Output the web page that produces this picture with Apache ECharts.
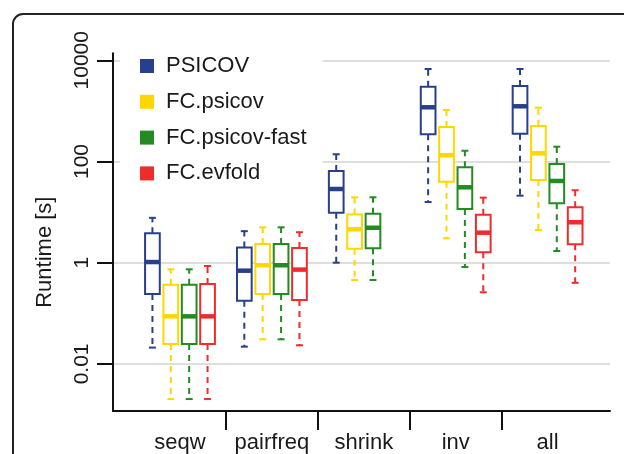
<!DOCTYPE html>
<html>
<head>
<meta charset="utf-8">
<script src="https://cdn.jsdelivr.net/npm/echarts@6.0.0/dist/echarts.min.js"></script>
<style>
  html, body { margin: 0; padding: 0; background: #ffffff; }
  #chart { width: 624px; height: 454px; }
</style>
</head>
<body>
<div id="chart"></div>
<script>
// ---- data (runtime in seconds): [lower whisker, Q1, median, Q3, upper whisker] ----
const categories = ['seqw', 'pairfreq', 'shrink', 'inv', 'all'];
const seriesNames = ['PSICOV', 'FC.psicov', 'FC.psicov-fast', 'FC.evfold'];

const psicov = [
  [0.021, 0.24, 1.03, 3.8, 7.7],
  [0.0219, 0.177, 0.695, 2.0, 4.2],
  [1.0, 9.7, 28.6, 65, 139],
  [15.8, 345, 1178, 3010, 6730],
  [21.1, 354, 1233, 3105, 6730]
];
const fcPsicov = [
  [0.00202, 0.0247, 0.087, 0.367, 0.74],
  [0.0306, 0.24, 0.89, 2.34, 5.0],
  [0.455, 1.89, 4.57, 9.0, 19.6],
  [3.03, 39.9, 133, 481, 1042],
  [4.43, 43.1, 145, 503, 1156]
];
const fcPsicovFast = [
  [0.00202, 0.0247, 0.087, 0.367, 0.74],
  [0.0306, 0.24, 0.89, 2.34, 5.0],
  [0.455, 1.92, 4.9, 9.3, 19.6],
  [0.82, 11.5, 30.9, 76.8, 163],
  [1.70, 14.9, 41.2, 89.3, 196]
];
const fcEvfold = [
  [0.00202, 0.0247, 0.087, 0.38, 0.86],
  [0.0233, 0.183, 0.73, 1.95, 4.0],
  null,
  [0.26, 1.6, 3.92, 8.9, 19.3],
  [0.40, 2.31, 6.29, 12.4, 27]
];

const yTickValues = [0.01, 1, 100, 10000];
const yTickLabels = ['0.01', '1', '100', '10000'];

// ---- styling ----
const colors = ['#27408B', '#FFD700', '#228B22', '#EE2C2C'];
const SLOT = 0.2;     // offset between boxes within a category (category units)
const BOX_W = 0.16;   // box width (category units)
const CAP_W = 0.076;  // whisker cap width
const FONT = '"Liberation Sans", Arial, sans-serif';
const TEXT = '#1a1a1a';

const allSeries = [psicov, fcPsicov, fcPsicovFast, fcEvfold];

function makeRender(sIdx, color) {
  return function (params, api) {
    const x = api.value(0) + (sIdx - 1.5) * SLOT;
    const pLow = api.coord([x, api.value(1)]);
    const yQ1 = api.coord([x, api.value(2)])[1];
    const yMed = api.coord([x, api.value(3)])[1];
    const yQ3 = api.coord([x, api.value(4)])[1];
    const yHigh = api.coord([x, api.value(5)])[1];
    const cx = pLow[0];
    const yLow = pLow[1];
    const bw = api.size([BOX_W, 0])[0];
    const cw = api.size([CAP_W, 0])[0];
    const dash = { stroke: color, lineWidth: 2, lineDash: [6, 5], fill: null };
    const solid = { stroke: color, lineWidth: 2, fill: null };
    return {
      type: 'group',
      children: [
        { type: 'line', shape: { x1: cx, y1: yQ1, x2: cx, y2: yLow }, style: dash },
        { type: 'line', shape: { x1: cx, y1: yQ3, x2: cx, y2: yHigh }, style: dash },
        { type: 'line', shape: { x1: cx - cw / 2, y1: yLow, x2: cx + cw / 2, y2: yLow }, style: solid },
        { type: 'line', shape: { x1: cx - cw / 2, y1: yHigh, x2: cx + cw / 2, y2: yHigh }, style: solid },
        { type: 'rect', shape: { x: cx - bw / 2, y: yQ3, width: bw, height: yQ1 - yQ3 },
          style: { stroke: color, lineWidth: 2, fill: '#ffffff' } },
        { type: 'line', shape: { x1: cx - bw / 2, y1: yMed, x2: cx + bw / 2, y2: yMed },
          style: { stroke: color, lineWidth: 4.5 } }
      ]
    };
  };
}

const series = allSeries.map((arr, sIdx) => ({
  type: 'custom',
  name: seriesNames[sIdx],
  itemStyle: { color: colors[sIdx] },
  renderItem: makeRender(sIdx, colors[sIdx]),
  encode: { x: 0, y: [1, 2, 3, 4, 5] },
  data: arr.map((row, i) => row ? [i].concat(row.map(v => Math.log10(v))) : null)
           .filter(d => d !== null),
  z: 2
}));

const chart = echarts.init(document.getElementById('chart'), null, { renderer: 'canvas' });

chart.setOption({
  animation: false,
  backgroundColor: '#ffffff',
  textStyle: { fontFamily: FONT },
  graphic: [{
    type: 'rect',
    shape: { x: 13, y: 14, width: 700, height: 600, r: 10 },
    style: { fill: null, stroke: '#222222', lineWidth: 2 },
    z: -10, silent: true
  }],
  grid: { left: 113, right: 14, top: 53.3, bottom: 454 - 411, containLabel: false },
  legend: {
    orient: 'vertical',
    left: 120, top: 40,
    padding: [15, 16, 12, 20],
    backgroundColor: '#ffffff',
    itemWidth: 14, itemHeight: 14, itemGap: 13.8,
    icon: 'rect',
    textStyle: { fontSize: 22, color: TEXT, fontFamily: FONT, lineHeight: 22, padding: [0, 0, 0, 7] },
    data: seriesNames.map((n, i) => ({ name: n, itemStyle: { color: colors[i] } })),
    z: 10
  },
  xAxis: {
    type: 'value',
    min: (113 - 180) / 91.9,
    max: (610 - 180) / 91.9,
    splitLine: { show: false },
    axisLine: { show: true, onZero: false, lineStyle: { color: '#111111', width: 2 } },
    axisTick: { show: true, length: 19, lineStyle: { color: '#111111', width: 2 },
                customValues: [0.5, 1.5, 2.5, 3.5] },
    axisLabel: {
      show: true, fontSize: 22, color: TEXT, fontFamily: FONT, margin: 21,
      customValues: categories.map((c, i) => i),
      formatter: v => categories[Math.round(v)]
    }
  },
  yAxis: {
    type: 'value',
    min: -2.931,
    max: 4.138,
    name: 'Runtime [s]',
    nameLocation: 'middle',
    nameGap: 57,
    nameTextStyle: { fontSize: 22, color: TEXT, fontFamily: FONT, padding: [0, 40, 0, 0] },
    axisLine: { show: true, onZero: false, lineStyle: { color: '#111111', width: 2 } },
    axisTick: { show: true, length: 16, lineStyle: { color: '#111111', width: 2 },
                customValues: yTickValues.map(v => Math.log10(v)) },
    axisLabel: {
      show: true, rotate: 90, fontSize: 21, color: TEXT, fontFamily: FONT, margin: 20,
      customValues: yTickValues.map(v => Math.log10(v)),
      formatter: v => {
        const i = yTickValues.findIndex(t => Math.abs(Math.log10(t) - v) < 1e-6);
        return i >= 0 ? yTickLabels[i] : '';
      }
    },
    splitLine: { show: true, lineStyle: { color: '#d3d3d3', width: 1.5 } }
  },
  series: series
});
</script>
</body>
</html>
